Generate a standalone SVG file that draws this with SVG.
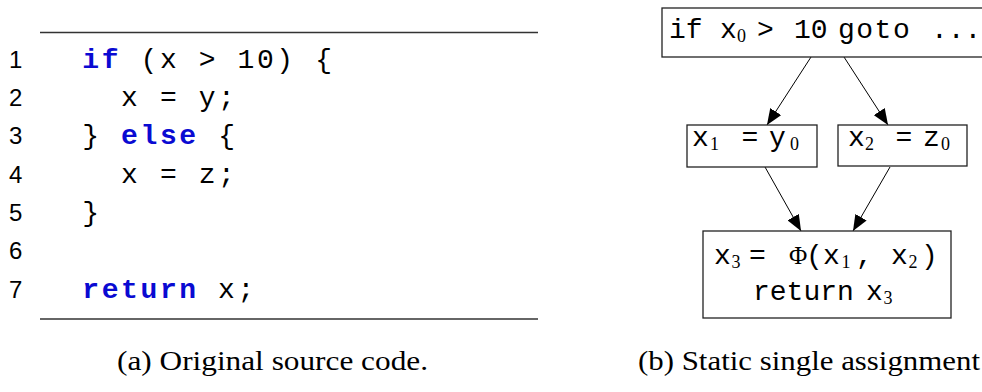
<svg xmlns="http://www.w3.org/2000/svg" width="982" height="392" viewBox="0 0 982 392">
  <style>
    .rule { stroke: #333; stroke-width: 1.4; }
    .lno { font-family: "Liberation Sans", Arial, sans-serif; font-size: 24px; fill: #000; }
    .code { font-family: "Liberation Mono", "Courier New", monospace; font-size: 28px; letter-spacing: 2.6px; fill: #000; }
    .kw { font-weight: bold; fill: #0a0ad2; }
    .box { fill: #fff; stroke: #222; stroke-width: 1.3; }
    .nt { font-family: "Liberation Mono", "Courier New", monospace; font-size: 28px; fill: #000; }
    .sub { font-family: "Liberation Serif", "Times New Roman", serif; font-size: 18px; }
    .greek { font-family: "Liberation Serif", "Times New Roman", serif; font-size: 25px; }
    .edge { stroke: #000; stroke-width: 1; fill: none; marker-end: url(#arrow); }
    .cap { font-family: "Liberation Serif", "Times New Roman", serif; font-size: 27px; fill: #000; }
  </style>
  <defs>
    <marker id="arrow" markerUnits="userSpaceOnUse" markerWidth="17" markerHeight="13" refX="16" refY="6.5" orient="auto">
      <path d="M0,0 L16,6.5 L0,13 z" fill="#000"/>
    </marker>
  </defs>
  <rect width="982" height="392" fill="#fff"/>

  <!-- (a) source listing -->
  <g id="listing">
    <line class="rule" x1="40" y1="32.5" x2="538" y2="32.5"/>
    <line class="rule" x1="40" y1="319" x2="538" y2="319"/>
    <text class="lno" x="9" y="67.8">1</text>
    <text class="lno" x="9" y="106.1">2</text>
    <text class="lno" x="9" y="144.4">3</text>
    <text class="lno" x="9" y="182.7">4</text>
    <text class="lno" x="9" y="221">5</text>
    <text class="lno" x="9" y="259.3">6</text>
    <text class="lno" x="9" y="297.6">7</text>
    <text class="code" x="82.3" y="67.8"><tspan class="kw">if</tspan> (x &gt; 10) {</text>
    <text class="code" x="121.1" y="106.1">x = y;</text>
    <text class="code" x="82.3" y="144.4">} <tspan class="kw">else</tspan> {</text>
    <text class="code" x="121.1" y="182.7">x = z;</text>
    <text class="code" x="82.3" y="221">}</text>
    <text class="code" x="82.3" y="297.6"><tspan class="kw">return</tspan> x;</text>
  </g>

  <!-- (b) SSA graph -->
  <g id="connectors">
    <line class="edge" x1="811" y1="57" x2="767" y2="125"/>
    <line class="edge" x1="844" y1="57" x2="888" y2="125"/>
    <line class="edge" x1="765" y1="167" x2="801" y2="231"/>
    <line class="edge" x1="890" y1="167" x2="853" y2="231"/>
  </g>

  <g id="node-cond">
    <rect class="box" x="662" y="8" width="326" height="49"/>
    <text class="nt" y="38"><tspan x="669">if</tspan><tspan x="720">x</tspan><tspan class="sub" x="737" y="42">0</tspan><tspan x="757" y="38">&gt;</tspan><tspan x="794">10</tspan><tspan x="838" letter-spacing="1.5">goto</tspan><tspan x="931">...</tspan></text>
  </g>

  <g id="node-x1">
    <rect class="box" x="687" y="125" width="130" height="42"/>
    <text class="nt" y="146"><tspan x="692">x</tspan><tspan class="sub" x="710" y="150">1</tspan><tspan x="741.6" y="146">=</tspan><tspan x="769">y</tspan><tspan class="sub" x="790" y="150">0</tspan></text>
  </g>

  <g id="node-x2">
    <rect class="box" x="838" y="125" width="129" height="41"/>
    <text class="nt" y="146"><tspan x="848">x</tspan><tspan class="sub" x="865" y="150">2</tspan><tspan x="895.6" y="146">=</tspan><tspan x="923">z</tspan><tspan class="sub" x="941" y="150">0</tspan></text>
  </g>

  <g id="node-phi">
    <rect class="box" x="703" y="231" width="248" height="87"/>
    <text class="nt" y="264"><tspan x="714">x</tspan><tspan class="sub" x="731.5" y="268">3</tspan><tspan x="749" y="264">=</tspan><tspan class="greek" x="789">Φ</tspan><tspan x="806">(</tspan><tspan x="823">x</tspan><tspan class="sub" x="841.5" y="268">1</tspan><tspan x="856" y="264">,</tspan><tspan x="891">x</tspan><tspan class="sub" x="908.5" y="268">2</tspan><tspan x="921" y="264">)</tspan></text>
    <text class="nt" y="300"><tspan x="753">return</tspan><tspan x="866">x</tspan><tspan class="sub" x="883.5" y="304">3</tspan></text>
  </g>

  <!-- captions -->
  <text class="cap" x="117" y="370" textLength="311" lengthAdjust="spacingAndGlyphs">(a) Original source code.</text>
  <text class="cap" x="638" y="370" textLength="342" lengthAdjust="spacingAndGlyphs">(b) Static single assignment</text>
</svg>
